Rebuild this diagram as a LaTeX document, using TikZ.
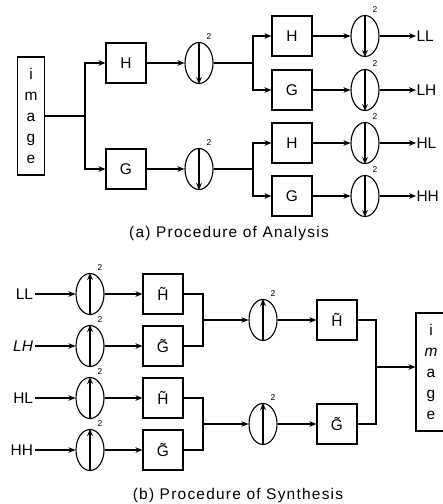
\documentclass[tikz,border=0pt]{standalone}
\usepackage{fontspec}
\setmainfont{Liberation Sans}
\usetikzlibrary{arrows.meta,shapes.geometric}

\begin{document}
\begin{tikzpicture}[x=0.025cm,y=-0.025cm,>={Stealth[length=5pt,width=4pt]},line width=.8pt,
  every node/.style={font=\fontsize{11}{13}\selectfont},
  filt/.style={draw,minimum width=1cm,minimum height=1cm,inner sep=0pt},
  two/.style={font=\fontsize{6}{7}\selectfont,inner sep=1pt,xshift=.25cm},
  samp/.style={draw,ellipse,minimum width=.7cm,minimum height=1.025cm,inner sep=0pt,label={[two]north:2}},
  word/.style={draw,minimum width=.675cm,minimum height=2.95cm,inner sep=0pt,align=center,font=\fontsize{11}{15}\selectfont},
  capt/.style={font=\fontsize{11}{13}\selectfont\addfontfeatures{LetterSpace=8}}]
\useasboundingbox (0,0) rectangle (442,504);

% (a) analysis
\node[word] (img) at (31,116) {i\\m\\a\\g\\e};
\coordinate (s1) at (85,116);
\node[filt] (h1) at (126,63) {H};
\node[filt] (g1) at (126,169) {G};
\node[samp] (d1) at (199,63) {};
\node[samp] (d2) at (199,169) {};
\draw (img) -- (s1);
\draw[->] (s1) |- (h1);
\draw[->] (s1) |- (g1);
\draw[->] (h1) -- (d1);
\draw[->] (g1) -- (d2);

\coordinate (s2) at (253,63);
\coordinate (s3) at (253,169);
\node[filt] (h2) at (292,36) {H};
\node[filt] (g2) at (292,90) {G};
\node[filt] (h3) at (292,143) {H};
\node[filt] (g3) at (292,196) {G};
\draw (d1) -- (s2);
\draw (d2) -- (s3);
\draw[->] (s2) |- (h2);
\draw[->] (s2) |- (g2);
\draw[->] (s3) |- (h3);
\draw[->] (s3) |- (g3);

\node[samp] (d3) at (365,36) {};
\node[samp] (d4) at (365,90) {};
\node[samp] (d5) at (365,143) {};
\node[samp] (d6) at (365,196) {};
\draw[->] (h2) -- (d3);
\draw[->] (g2) -- (d4);
\draw[->] (h3) -- (d5);
\draw[->] (g3) -- (d6);
\foreach \d in {d1,d2,d3,d4,d5,d6}
  \draw[->] (\d.north) -- (\d.south);

\node[anchor=west,inner sep=0pt] (ll) at (416,36) {LL};
\node[anchor=west,inner sep=0pt] (lh) at (416,90) {LH};
\node[anchor=west,inner sep=0pt] (hl) at (416,143) {HL};
\node[anchor=west,inner sep=0pt] (hh) at (416,196) {HH};
\draw[->] (d3) -- (ll);
\draw[->] (d4) -- (lh);
\draw[->] (d5) -- (hl);
\draw[->] (d6) -- (hh);

\node[capt] (capa) at (229,233) {(a) Procedure of Analysis};

% (b) synthesis
\node[anchor=east,inner sep=1pt] (ll2) at (35,294) {LL};
\node[anchor=east,inner sep=1pt] (lh2) at (35,346) {\textit{LH}};
\node[anchor=east,inner sep=1pt] (hl2) at (35,398) {HL};
\node[anchor=east,inner sep=1pt] (hh2) at (35,450) {HH};
\node[samp] (u1) at (90,294) {};
\node[samp] (u2) at (90,346) {};
\node[samp] (u3) at (90,398) {};
\node[samp] (u4) at (90,450) {};
\draw[->] (ll2) -- (u1);
\draw[->] (lh2) -- (u2);
\draw[->] (hl2) -- (u3);
\draw[->] (hh2) -- (u4);

\node[filt] (ht1) at (163,294) {\~{H}};
\node[filt] (gt1) at (163,346) {\~{G}};
\node[filt] (ht2) at (163,398) {\~{H}};
\node[filt] (gt2) at (163,450) {\~{G}};
\draw[->] (u1) -- (ht1);
\draw[->] (u2) -- (gt1);
\draw[->] (u3) -- (ht2);
\draw[->] (u4) -- (gt2);

\coordinate (m1) at (203,320);
\coordinate (m2) at (203,424);
\draw (ht1) -| (m1);
\draw (gt1) -| (m1);
\draw (ht2) -| (m2);
\draw (gt2) -| (m2);
\node[samp] (u5) at (263,320) {};
\node[samp] (u6) at (263,424) {};
\draw[->] (m1) -- (u5);
\draw[->] (m2) -- (u6);
\foreach \u in {u1,u2,u3,u4,u5,u6}
  \draw[->] (\u.south) -- (\u.north);

\node[filt] (ht3) at (337,320) {\~{H}};
\node[filt] (gt3) at (337,424) {\~{G}};
\draw[->] (u5) -- (ht3);
\draw[->] (u6) -- (gt3);

\coordinate (m3) at (376,367);
\node[word,minimum width=.75cm] (img2) at (431,372) {i\\\textit{m}\\a\\g\\e};
\draw (ht3) -| (m3);
\draw (gt3) -| (m3);
\draw[->] (m3) -- (img2.west |- m3);

\node[capt] (capb) at (238,495) {(b) Procedure of Synthesis};
\end{tikzpicture}
\end{document}
